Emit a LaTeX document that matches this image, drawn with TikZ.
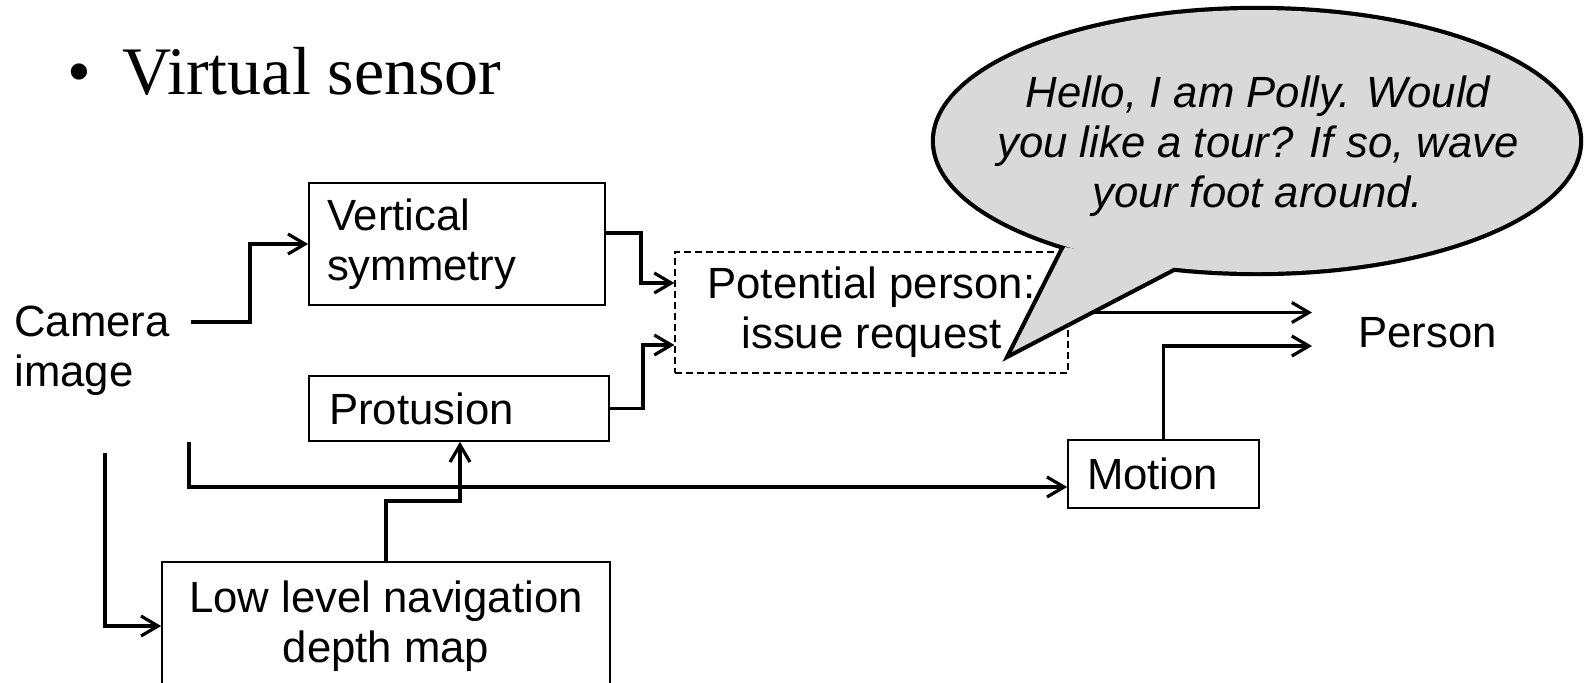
\documentclass[tikz,border=0pt]{standalone}
\usepackage{fontspec}
\setmainfont{Liberation Sans}
\newfontfamily\ttlfont{Liberation Serif}
\usetikzlibrary{arrows.meta}
\definecolor{bubblegray}{HTML}{D9D9D9}
\newcommand\dgfont{\fontsize{21.85}{25}\selectfont}
\begin{document}
\begin{tikzpicture}[x=0.5pt,y=-0.5pt,
  every node/.style={font=\dgfont},
  box/.style={draw, line width=0.85pt, inner ysep=0pt},
  dbox/.style={draw, line width=0.6pt, dash pattern=on 3.5pt off 2pt, inner ysep=0pt},
  conn/.style={line width=1.6pt, -{Straight Barb[length=8.5pt,width=10pt]}},
  bubble/.style={line width=4.2pt, line join=miter}]
\useasboundingbox (0,0) rectangle (1584,682);

% title
\node[font=\ttlfont\fontsize{34}{40}\selectfont, anchor=base, inner sep=0pt] (bul) at (79,94) {•};
\node[font=\ttlfont\fontsize{34}{40}\selectfont, anchor=base west, inner sep=0pt] (ttl) at (122,94) {Virtual sensor};

% nodes
\node[anchor=west, inner sep=0pt, align=left] (cam) at (14,351) {Camera\\image};
\node[box, minimum height=61pt, text width=130pt, inner xsep=9pt, align=left] (vs) at (457,244) {Vertical\\symmetry};
\node[box, minimum height=32.5pt, text width=130pt, inner xsep=10pt, align=left] (pr) at (459,408.5) {Protusion};
\node[dbox, minimum width=196.5pt, minimum height=60.5pt, inner xsep=0pt, align=center] (pp) at (871.5,312.5) {Potential person:\\issue request};
\node[box, minimum width=224pt, minimum height=64pt, inner xsep=0pt, align=center] (ll) at (386,626) {Low level navigation\\depth map};
\node[box, minimum height=34pt, text width=76.5pt, inner xsep=9.5pt, align=left] (mo) at (1163.5,474) {Motion};
\node[anchor=west, inner sep=0pt] (person) at (1358,333) {Person};

% connector helpers
\coordinate (camA) at (191,322);
\coordinate (k1) at (250,244);
\coordinate (k2) at (641,233);
\coordinate (k3) at (641,283);
\coordinate (k5) at (643,345);
\coordinate (camB) at (189,442);
\coordinate (k6) at (189,487);
\coordinate (k7) at (460,501);
\coordinate (camC) at (105,453);
\coordinate (pin1) at (1312,312.5);
\coordinate (pin2) at (1312,346);

% connectors
\draw[conn] (camA) -| (k1) -- (vs.west);
\draw[conn] (vs.east |- k2) -- (k2) -- (k3) -- (pp.west |- k3);
\draw[conn] (pr.east) -| (k5) -- (pp.west |- k5);
\draw[conn] (camB) -- (k6) -- (mo.west |- k6);
\draw[conn] (ll.north) |- (k7) -- (pr.south -| k7);
\draw[conn] (camC) |- (ll.west);
\draw[conn] (pp.east) -- (pin1);
\draw[conn] (mo.north) |- (pin2);

% speech bubble
\coordinate (bc) at (1257,141);
\coordinate (t1) at (1065,247);
\coordinate (t2) at (1012,352);
\coordinate (t3) at (1175,267);
\draw[bubble] (bc) ellipse [x radius=322, y radius=131];
\draw[bubble] (t1) -- (t2) -- (t3) -- cycle;
\fill[bubblegray] (bc) ellipse [x radius=322, y radius=131];
\fill[bubblegray] (t1) -- (t2) -- (t3) -- cycle;
\node[font=\dgfont\itshape, align=center, inner sep=0pt] (say) at (1258,146) {Hello, I am Polly. Would\\you like a tour? If so, wave\\your foot around.};
\end{tikzpicture}
\end{document}
